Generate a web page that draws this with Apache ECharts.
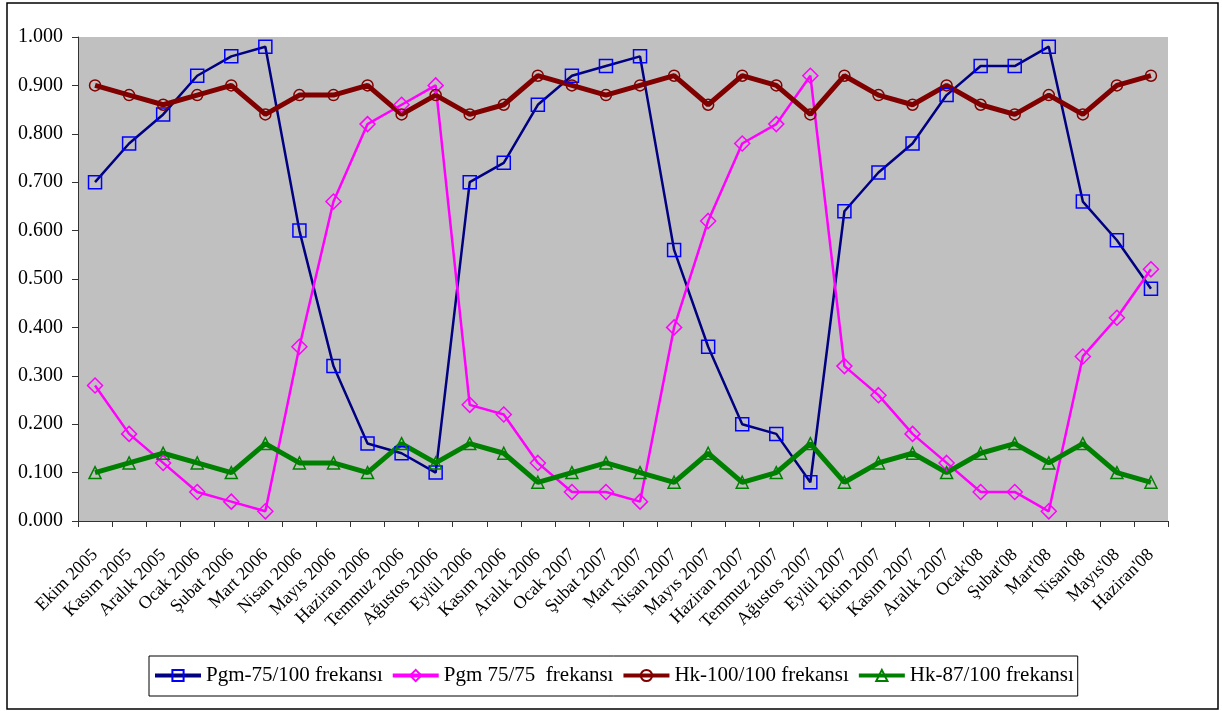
<!DOCTYPE html>
<html>
<head>
<meta charset="utf-8">
<script src="https://cdn.jsdelivr.net/npm/echarts@6/dist/echarts.min.js"></script>
<style>
  html, body { margin: 0; padding: 0; background: #fff; }
  #chart { width: 1222px; height: 711px; }
</style>
</head>
<body>
<div id="chart"></div>
<script>
// Monthly frequency ratios, Oct 2005 – Jun 2008
const months = [
  'Ekim 2005', 'Kasım 2005', 'Aralık 2005', 'Ocak 2006', 'Şubat 2006', 'Mart 2006',
  'Nisan 2006', 'Mayıs 2006', 'Haziran 2006', 'Temmuz 2006', 'Ağustos 2006', 'Eylül 2006',
  'Kasım 2006', 'Aralık 2006', 'Ocak 2007', 'Şubat 2007', 'Mart 2007', 'Nisan 2007',
  'Mayıs 2007', 'Haziran 2007', 'Temmuz 2007', 'Ağustos 2007', 'Eylül 2007', 'Ekim 2007',
  'Kasım 2007', 'Aralık 2007', "Ocak'08", "Şubat'08", "Mart'08", "Nisan'08", "Mayıs'08", "Haziran'08"
];

const pgm75_100 = [0.70, 0.78, 0.84, 0.92, 0.96, 0.98, 0.60, 0.32, 0.16, 0.14, 0.10, 0.70,
  0.74, 0.86, 0.92, 0.94, 0.96, 0.56, 0.36, 0.20, 0.18, 0.08, 0.64, 0.72,
  0.78, 0.88, 0.94, 0.94, 0.98, 0.66, 0.58, 0.48];

const pgm75_75 = [0.28, 0.18, 0.12, 0.06, 0.04, 0.02, 0.36, 0.66, 0.82, 0.86, 0.90, 0.24,
  0.22, 0.12, 0.06, 0.06, 0.04, 0.40, 0.62, 0.78, 0.82, 0.92, 0.32, 0.26,
  0.18, 0.12, 0.06, 0.06, 0.02, 0.34, 0.42, 0.52];

const hk100_100 = [0.90, 0.88, 0.86, 0.88, 0.90, 0.84, 0.88, 0.88, 0.90, 0.84, 0.88, 0.84,
  0.86, 0.92, 0.90, 0.88, 0.90, 0.92, 0.86, 0.92, 0.90, 0.84, 0.92, 0.88,
  0.86, 0.90, 0.86, 0.84, 0.88, 0.84, 0.90, 0.92];

const hk87_100 = [0.10, 0.12, 0.14, 0.12, 0.10, 0.16, 0.12, 0.12, 0.10, 0.16, 0.12, 0.16,
  0.14, 0.08, 0.10, 0.12, 0.10, 0.08, 0.14, 0.08, 0.10, 0.16, 0.08, 0.12,
  0.14, 0.10, 0.14, 0.16, 0.12, 0.16, 0.10, 0.08];

const seriesNames = ['Pgm-75/100 frekansı', 'Pgm 75/75  frekansı', 'Hk-100/100 frekansı', 'Hk-87/100 frekansı'];

const FONT = '"Liberation Serif", "Times New Roman", serif';

function lineSeries(name, data, lineColor, lineWidth, symbol, symbolSize, markerColor) {
  return {
    name: name,
    type: 'line',
    data: data,
    symbol: symbol,
    symbolSize: symbolSize,
    showAllSymbol: true,
    lineStyle: { color: lineColor, width: lineWidth },
    itemStyle: { color: 'rgba(0,0,0,0)', borderColor: markerColor, borderWidth: 1.5 },
    emphasis: { disabled: true },
    animation: false
  };
}

const chart = echarts.init(document.getElementById('chart'), null, { renderer: 'canvas' });

// legend keys use a heavier stroke than the plotted lines
const legendItems = seriesNames.map(function (n) {
  return { name: n, lineStyle: { width: 4 } };
});

chart.setOption({
  backgroundColor: '#ffffff',
  animation: false,
  textStyle: { fontFamily: FONT, color: '#000' },
  grid: {
    left: 78, right: 54, top: 37, bottom: 190,
    show: true, backgroundColor: '#c0c0c0', borderWidth: 0
  },
  graphic: [{
    type: 'rect',
    shape: { x: 7, y: 3, width: 1211, height: 706 },
    style: { fill: 'none', stroke: '#000', lineWidth: 1.5 },
    silent: true
  }],
  legend: {
    data: legendItems,
    left: 149, top: 656,
    width: 940,
    padding: [9, 4, 10, 4],
    borderColor: '#000', borderWidth: 1,
    backgroundColor: '#fff',
    itemWidth: 46, itemHeight: 14, itemGap: 8,
    textStyle: { fontFamily: FONT, fontSize: 21, color: '#000' }
  },
  xAxis: {
    type: 'category',
    data: months,
    boundaryGap: true,
    axisLine: { lineStyle: { color: '#333', width: 1 } },
    axisTick: { show: true, length: 6, lineStyle: { color: '#333' } },
    axisLabel: {
      interval: 0, rotate: 45, margin: 31,
      fontFamily: FONT, fontSize: 18, color: '#000'
    },
    splitLine: { show: false }
  },
  yAxis: {
    type: 'value',
    min: 0, max: 1, interval: 0.1,
    axisLine: { show: true, lineStyle: { color: '#333', width: 1 } },
    axisTick: { show: true, length: 6, lineStyle: { color: '#333' } },
    axisLabel: {
      margin: 15, fontFamily: FONT, fontSize: 20, color: '#000',
      formatter: function (v) { return v.toFixed(3); }
    },
    splitLine: { show: false }
  },
  series: [
    lineSeries(seriesNames[0], pgm75_100, '#000080', 2.5, 'rect', 13, '#0000ff'),
    lineSeries(seriesNames[1], pgm75_75, '#ff00ff', 2.5, 'diamond', 15, '#ff00ff'),
    lineSeries(seriesNames[2], hk100_100, '#800000', 5, 'circle', 11, '#800000'),
    lineSeries(seriesNames[3], hk87_100, '#008000', 5, 'triangle', 12, '#008000')
  ]
});
</script>
</body>
</html>
